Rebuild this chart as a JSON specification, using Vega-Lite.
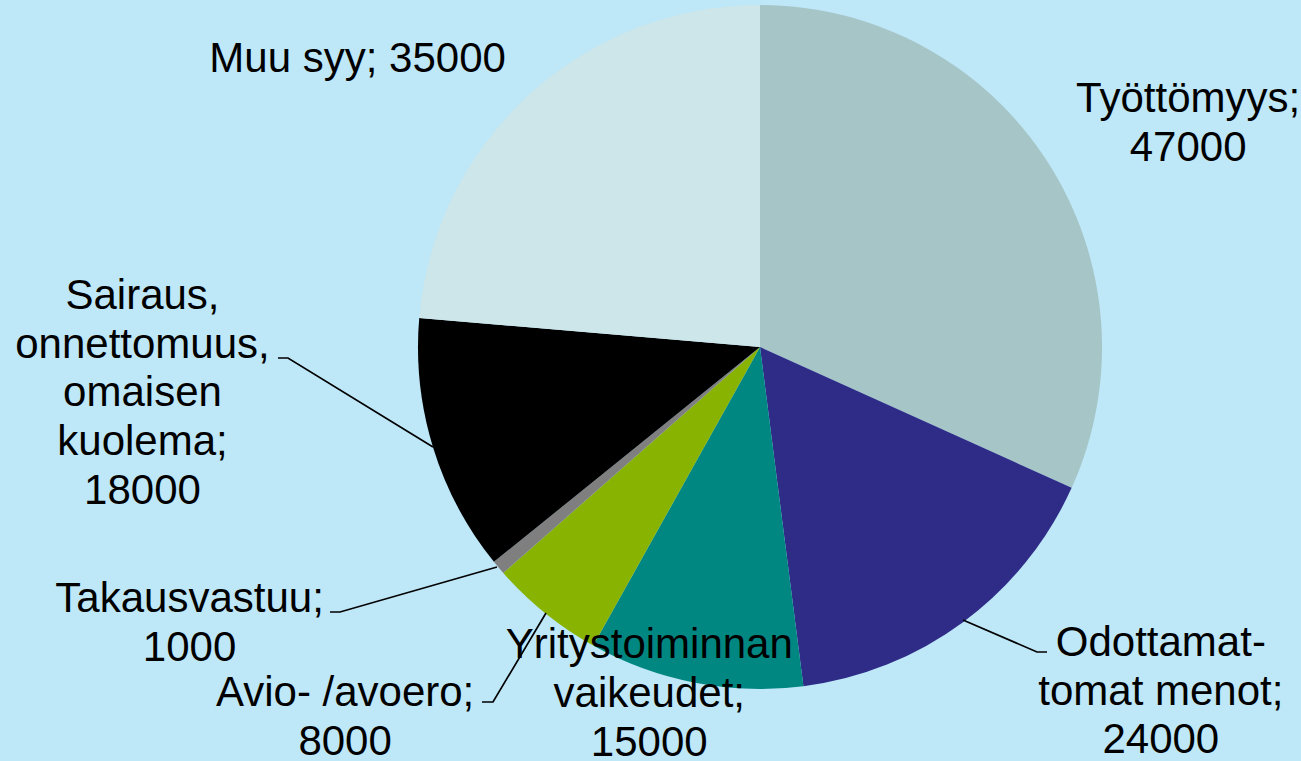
{
  "$schema": "https://vega.github.io/schema/vega-lite/v6.json",
  "width": 1082,
  "height": 694,
  "autosize": {"type": "none"},
  "padding": {"left": 219, "top": 0, "right": 0, "bottom": 67},
  "background": "#BEE7F8",
  "config": {"view": {"stroke": null}},
  "data": {
    "values": [
      {"idx": 1, "cat": "Työttömyys", "value": 47000, "label": "Työttömyys;\n47000"},
      {"idx": 2, "cat": "Odottamattomat menot", "value": 24000, "label": "Odottamat-\ntomat menot;\n24000"},
      {"idx": 3, "cat": "Yritystoiminnan vaikeudet", "value": 15000, "label": "Yritystoiminnan\nvaikeudet;\n15000"},
      {"idx": 4, "cat": "Avio- /avoero", "value": 8000, "label": "Avio- /avoero;\n8000"},
      {"idx": 5, "cat": "Takausvastuu", "value": 1000, "label": "Takausvastuu;\n1000"},
      {"idx": 6, "cat": "Sairaus, onnettomuus, omaisen kuolema", "value": 18000, "label": "Sairaus,\nonnettomuus,\nomaisen\nkuolema;\n18000"},
      {"idx": 7, "cat": "Muu syy", "value": 35000, "label": "Muu syy; 35000"}
    ]
  },
  "layer": [
    {
      "encoding": {
        "theta": {"field": "value", "type": "quantitative", "stack": true},
        "order": {"field": "idx", "type": "quantitative"}
      },
      "layer": [
        {
          "mark": {"type": "arc", "outerRadius": 342},
          "encoding": {
            "color": {
              "field": "cat",
              "type": "nominal",
              "scale": {
                "domain": ["Työttömyys", "Odottamattomat menot", "Yritystoiminnan vaikeudet", "Avio- /avoero", "Takausvastuu", "Sairaus, onnettomuus, omaisen kuolema", "Muu syy"],
                "range": ["#A6C5C6", "#2E2C87", "#018781", "#88B300", "#7F7F7F", "#000000", "#CCE6EA"]
              },
              "legend": null
            }
          }
        },
        {
          "mark": {"type": "text", "radius": 481, "dx": 24, "dy": 13, "font": "Liberation Sans", "fontSize": 42, "lineHeight": 48.75, "lineBreak": "\n", "align": "center", "baseline": "middle", "color": "#000000"},
          "encoding": {"text": {"condition": {"test": "datum.idx === 1", "field": "label"}, "value": ""}}
        },
        {
          "mark": {"type": "text", "radius": 516, "dx": 94, "dy": -119, "font": "Liberation Sans", "fontSize": 42, "lineHeight": 48.75, "lineBreak": "\n", "align": "center", "baseline": "middle", "color": "#000000"},
          "encoding": {"text": {"condition": {"test": "datum.idx === 2", "field": "label"}, "value": ""}}
        },
        {
          "mark": {"type": "text", "radius": 362, "dx": -42, "dy": -57, "font": "Liberation Sans", "fontSize": 42, "lineHeight": 48.75, "lineBreak": "\n", "align": "center", "baseline": "middle", "color": "#000000"},
          "encoding": {"text": {"condition": {"test": "datum.idx === 3", "field": "label"}, "value": ""}}
        },
        {
          "mark": {"type": "text", "radius": 549, "dx": -70, "dy": -81, "font": "Liberation Sans", "fontSize": 42, "lineHeight": 48.75, "lineBreak": "\n", "align": "center", "baseline": "middle", "color": "#000000"},
          "encoding": {"text": {"condition": {"test": "datum.idx === 4", "field": "label"}, "value": ""}}
        },
        {
          "mark": {"type": "text", "radius": 614, "dx": -101, "dy": -144, "font": "Liberation Sans", "fontSize": 42, "lineHeight": 48.75, "lineBreak": "\n", "align": "center", "baseline": "middle", "color": "#000000"},
          "encoding": {"text": {"condition": {"test": "datum.idx === 5", "field": "label"}, "value": ""}}
        },
        {
          "mark": {"type": "text", "radius": 604, "dx": -40, "dy": -228, "font": "Liberation Sans", "fontSize": 42, "lineHeight": 48.75, "lineBreak": "\n", "align": "center", "baseline": "middle", "color": "#000000"},
          "encoding": {"text": {"condition": {"test": "datum.idx === 6", "field": "label"}, "value": ""}}
        },
        {
          "mark": {"type": "text", "radius": 484, "dx": -75, "dy": 68, "font": "Liberation Sans", "fontSize": 42, "lineHeight": 48.75, "lineBreak": "\n", "align": "center", "baseline": "middle", "color": "#000000"},
          "encoding": {"text": {"condition": {"test": "datum.idx === 7", "field": "label"}, "value": ""}}
        }
      ]
    },
    {
      "transform": [{"filter": "datum.idx === 2 || datum.idx === 4 || datum.idx === 5 || datum.idx === 6"}],
      "mark": {"type": "point", "filled": false, "size": 4, "opacity": 1, "strokeWidth": 1.7, "color": "#000000"},
      "encoding": {
        "shape": {
          "field": "cat",
          "type": "nominal",
          "scale": {
            "domain": ["Odottamattomat menot", "Avio- /avoero", "Takausvastuu", "Sairaus, onnettomuus, omaisen kuolema"],
            "range": ["M203,273L277,305L287,305", "M-214,266L-267,355L-278,355", "M-263,220L-420,265L-430,265", "M-327,100L-472,11L-482,11"]
          },
          "legend": null
        }
      }
    }
  ]
}
